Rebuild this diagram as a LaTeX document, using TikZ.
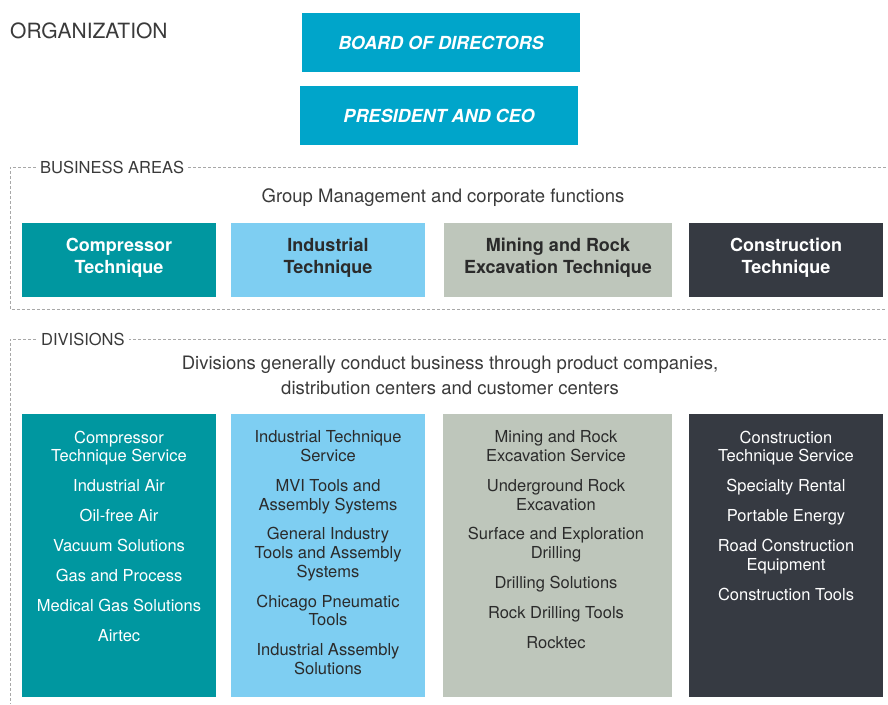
\documentclass[tikz,border=0pt]{standalone}
\usepackage{fontspec}
\setmainfont{TeX Gyre Heros}
\definecolor{boardblue}{HTML}{00A5CA}
\definecolor{ctteal}{HTML}{0097A0}
\definecolor{itblue}{HTML}{7ECEF2}
\definecolor{mrsage}{HTML}{BEC6BB}
\definecolor{cndark}{HTML}{363A42}
\definecolor{txtdark}{HTML}{2B2B2B}
\definecolor{labelgray}{HTML}{3A3A3A}
\definecolor{framegray}{HTML}{A8A8A8}
\begin{document}
\begin{tikzpicture}[x=1pt,y=-1pt,
  topbox/.style={fill=boardblue, minimum width=278pt, minimum height=59pt, inner sep=0pt, text=white, font=\fontsize{18}{22}\selectfont\bfseries\itshape},
  areabox/.style={minimum height=74pt, inner sep=0pt},
  areatext/.style={inner sep=0pt, align=center, font=\fontsize{18}{22}\selectfont\bfseries},
  divbox/.style={anchor=north west, inner sep=0pt, minimum height=283pt},
  divtext/.style={anchor=north, inner sep=0pt, align=center, font=\fontsize{16.5}{18.7}\selectfont},
  frameline/.style={draw=framegray, line width=0.8pt, dash pattern=on 3pt off 2pt},
  framelabel/.style={fill=white, anchor=west, inner xsep=4pt, inner ysep=1pt, text=labelgray, font=\fontsize{16.5}{18}\selectfont},
  plain/.style={inner sep=0pt, text=labelgray, align=center, font=\fontsize{18.5}{25}\selectfont}
]
\useasboundingbox (0,0) rectangle (888,704);

% title
\node[anchor=west, inner sep=0pt, text=labelgray, font=\fontsize{21}{26}\selectfont] (title) at (10,31) {ORGANIZATION};

% top boxes
\node[topbox] (board) at (441,42.5) {BOARD OF DIRECTORS};
\node[topbox] (ceo) at (439,115.5) {PRESIDENT AND CEO};

% business areas frame
\coordinate (ba1) at (886,167);
\coordinate (ba2) at (10,167);
\coordinate (ba3) at (10,309);
\coordinate (ba4) at (886,309);
\draw[frameline] (ba1) -- (ba2) -- (ba3) -- (ba4);
\node[framelabel] (balabel) at (36,167) {BUSINESS AREAS};
\node[plain] (gm) at (443,198) {Group Management and corporate functions};

\node[areabox, fill=ctteal, minimum width=194pt] (act) at (119,260) {};
\node[areabox, fill=itblue, minimum width=194pt] (ait) at (328,260) {};
\node[areabox, fill=mrsage, minimum width=228pt] (amr) at (558,260) {};
\node[areabox, fill=cndark, minimum width=194pt] (acn) at (786,260) {};
\node[areatext, text=white] (tact) at (119,257.5) {Compressor\\Technique};
\node[areatext, text=txtdark] (tait) at (328,257.5) {Industrial\\Technique};
\node[areatext, text=txtdark] (tamr) at (558,257.5) {Mining and Rock\\Excavation Technique};
\node[areatext, text=white] (tacn) at (786,257.5) {Construction\\Technique};

% divisions frame
\coordinate (dv1) at (886,339);
\coordinate (dv2) at (10,339);
\coordinate (dv3) at (10,704);
\draw[frameline] (dv1) -- (dv2) -- (dv3);
\node[framelabel] (dvlabel) at (37,339) {DIVISIONS};
\node[plain] (dvtext) at (450,375.5) {Divisions generally conduct business through product companies,\\distribution centers and customer centers};

% division boxes
\node[divbox, fill=ctteal, minimum width=194pt] (dct) at (22,414) {};
\node[divbox, fill=itblue, minimum width=194pt] (dit) at (231,414) {};
\node[divbox, fill=mrsage, minimum width=229pt] (dmr) at (443,414) {};
\node[divbox, fill=cndark, minimum width=194pt] (dcn) at (689,414) {};

\node[divtext, text=white] (tct) at (119,430.5) {Compressor\\Technique Service\\[11.2pt]Industrial Air\\[11.2pt]Oil-free Air\\[11.2pt]Vacuum Solutions\\[11.2pt]Gas and Process\\[11.2pt]Medical Gas Solutions\\[11.2pt]Airtec};
\node[divtext, text=txtdark] (tit) at (328,430.5) {Industrial Technique\\Service\\[11.2pt]MVI Tools and\\Assembly Systems\\[11.2pt]General Industry\\Tools and Assembly\\Systems\\[11.2pt]Chicago Pneumatic\\Tools\\[11.2pt]Industrial Assembly\\Solutions};
\node[divtext, text=txtdark] (tmr) at (556,430.5) {Mining and Rock\\Excavation Service\\[11.2pt]Underground Rock\\Excavation\\[11.2pt]Surface and Exploration\\Drilling\\[11.2pt]Drilling Solutions\\[11.2pt]Rock Drilling Tools\\[11.2pt]Rocktec};
\node[divtext, text=white] (tcn) at (786,430.5) {Construction\\Technique Service\\[11.2pt]Specialty Rental\\[11.2pt]Portable Energy\\[11.2pt]Road Construction\\Equipment\\[11.2pt]Construction Tools};
\end{tikzpicture}
\end{document}
